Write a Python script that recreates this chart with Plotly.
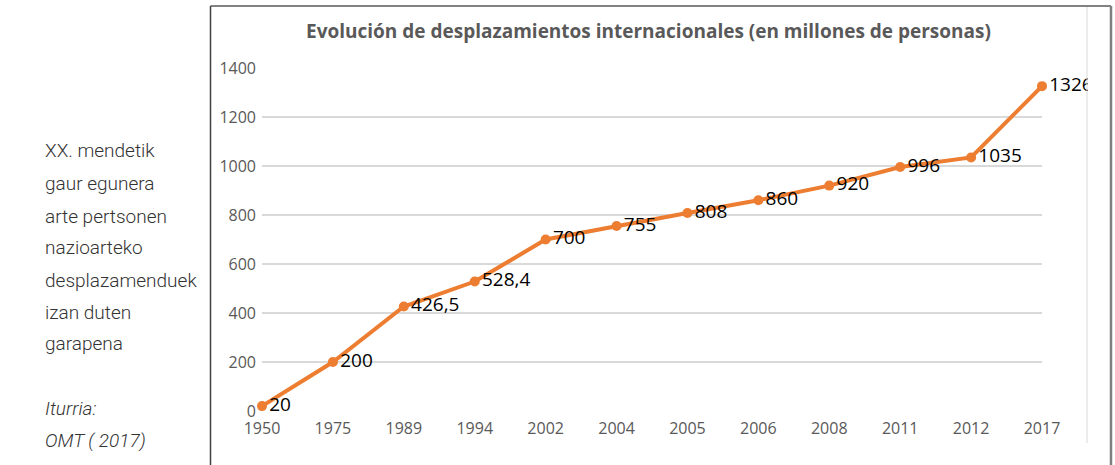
import plotly.graph_objects as go

years = ["1950", "1975", "1989", "1994", "2002", "2004", "2005", "2006", "2008", "2011", "2012", "2017"]
travellers = [20, 200, 426.5, 528.4, 700, 755, 808, 860, 920, 996, 1035, 1326]
y_ticks = [0, 200, 400, 600, 800, 1000, 1200, 1400]

title_text = "Evolución de desplazamientos internacionales (en millones de personas)"
side_lines = ["XX. mendetik", "gaur egunera", "arte pertsonen", "nazioarteko",
              "desplazamenduek", "izan duten", "garapena"]
source_lines = ["Iturria:", "OMT ( 2017)"]

labels = [(f"{v:g}").replace(".", ",") for v in travellers]

W, H = 1115, 465
L, R, T, B = 262, 1042, 68, 411


def px_x(p):
    return (p - L) / (R - L)


def px_y(p):
    return (B - p) / (B - T)


ORANGE = "#ED7D31"
GRAY = "#595959"

fig = go.Figure()
fig.add_trace(go.Scatter(
    x=list(range(len(years))), y=travellers,
    mode="lines+markers+text",
    line=dict(color=ORANGE, width=4),
    marker=dict(color=ORANGE, size=10),
    text=labels, textposition="middle right",
    textfont=dict(family="Open Sans", size=19, color="#000000"),
    cliponaxis=False, hoverinfo="skip", showlegend=False,
))

shapes = [
    # mask that clips the last label at the inner chart edge
    dict(type="rect", xref="paper", yref="paper", x0=px_x(1088), x1=px_x(1110),
         y0=px_y(115), y1=px_y(60), fillcolor="white", line=dict(width=0), layer="above"),
    # inner light chart edge
    dict(type="line", xref="paper", yref="paper", x0=px_x(1087), x1=px_x(1087),
         y0=px_y(443), y1=px_y(6), line=dict(color="#D9D9D9", width=1), layer="above"),
    # outer frame
    dict(type="line", xref="paper", yref="paper", x0=px_x(210.5), x1=px_x(210.5),
         y0=px_y(470), y1=px_y(6), line=dict(color="#404040", width=1.5), layer="above"),
    dict(type="line", xref="paper", yref="paper", x0=px_x(210.5), x1=px_x(1111),
         y0=px_y(6), y1=px_y(6), line=dict(color="#595959", width=1.5), layer="above"),
    dict(type="line", xref="paper", yref="paper", x0=px_x(1111), x1=px_x(1111),
         y0=px_y(470), y1=px_y(6), line=dict(color="#7F7F7F", width=2.5), layer="above"),
]

annotations = [dict(
    text=f"<b>{title_text}</b>", xref="paper", yref="paper",
    x=px_x(648), y=px_y(31), xanchor="center", yanchor="middle", showarrow=False,
    font=dict(family="Open Sans", size=19, color=GRAY),
)]

side_y = [150, 183, 216, 248, 280, 312, 343]
for line, yy in zip(side_lines, side_y):
    annotations.append(dict(
        text=line, xref="paper", yref="paper", x=px_x(43), y=px_y(yy),
        xanchor="left", yanchor="middle", showarrow=False,
        font=dict(family="Roboto", size=19, color="#333333", weight=300),
    ))
for line, yy in zip(source_lines, [408, 440]):
    annotations.append(dict(
        text=f"<i>{line}</i>", xref="paper", yref="paper", x=px_x(43), y=px_y(yy),
        xanchor="left", yanchor="middle", showarrow=False,
        font=dict(family="Roboto", size=19, color="#333333", weight=300),
    ))

fig.update_layout(
    width=W, height=H,
    margin=dict(l=L, r=W - R, t=T, b=H - B, pad=0),
    paper_bgcolor="white", plot_bgcolor="white",
    xaxis=dict(
        range=[0, len(years) - 1], tickmode="array",
        tickvals=list(range(len(years))), ticktext=years,
        showgrid=False, zeroline=False, showline=False, ticklabelstandoff=6,
        tickfont=dict(family="Open Sans", size=16, color=GRAY),
    ),
    yaxis=dict(
        range=[0, 1400], tickmode="array", tickvals=y_ticks,
        showgrid=True, gridcolor="#D9D9D9", gridwidth=1.5,
        zeroline=False, showline=False, ticks="", ticklabelstandoff=5,
        tickfont=dict(family="Open Sans", size=16, color=GRAY),
    ),
    shapes=shapes, annotations=annotations,
)

fig.write_html(
    "out.html",
    config={"displayModeBar": False, "staticPlot": True},
    post_script="document.body.style.margin='0';document.body.style.overflow='hidden';",
)
